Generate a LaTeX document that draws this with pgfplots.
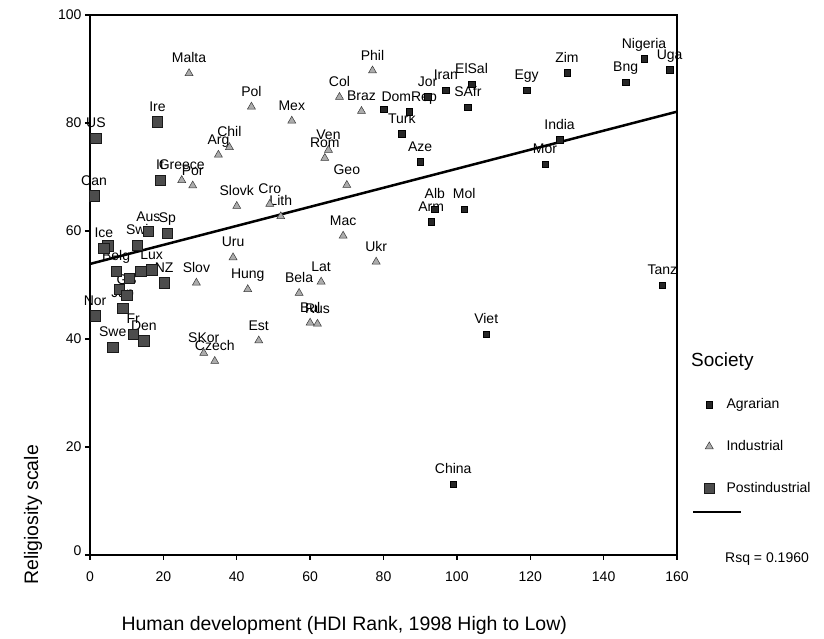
\documentclass[border=0pt]{standalone}
\usepackage{fontspec}
\setmainfont{Liberation Sans}
\usepackage{pgfplots}
\pgfplotsset{compat=1.18}
\usepackage{pgfplotstable}

\pgfplotstableread{
x y label
99 13.1 China
108 40.9 Viet
156 50.0 Tanz
94 64.0 Alb
93 61.7 Arm
102 64.0 Mol
90 72.8 Aze
85 78.0 Turk
87 82.1 DomRep
92 84.9 Jor
97 86.1 Iran
104 87.2 ElSal
103 82.9 SAfr
119 86.1 Egy
130 89.3 Zim
146 87.6 Bng
151 91.9 Nigeria
158 89.9 Uga
128 76.9 India
124 72.4 Mor
80 82.5 {}
}\agrarian

\pgfplotstableread{
x y label
27 89.2 Malta
44 83.0 Pol
55 80.4 Mex
68 84.8 Col
74 82.2 Braz
77 89.7 Phil
38 75.5 Chil
35 74.1 Arg
25 69.4 Greece
28 68.4 Por
65 75.0 Ven
64 73.5 Rom
70 68.5 Geo
40 64.6 Slovk
49 65.0 Cro
52 62.7 Lith
69 59.1 Mac
78 54.3 Ukr
39 55.1 Uru
29 50.4 Slov
43 49.2 Hung
63 50.6 Lat
57 48.5 Bela
60 43.0 Bul
62 42.8 Rus
46 39.7 Est
31 37.4 SKor
34 35.9 Czech
}\industrial

\pgfplotstableread{
x y label
1.6 77.2 US
1.1 66.5 Can
1.4 44.3 Nor
4.8 57.3 {}
3.8 56.8 Ice
6.2 38.5 Swe
7.1 52.5 Belg
8.0 49.2 {}
8.9 45.7 Jap
10.0 48.1 GB
10.7 51.2 {}
11.8 40.9 Fr
12.9 57.4 Swi
13.8 52.5 {}
14.7 39.7 Den
15.9 59.9 Aus
16.8 52.8 Lux
18.4 80.2 Ire
19.1 69.4 It
20.2 50.4 NZ
21.1 59.6 Sp
}\postindustrial

\begin{document}
\begin{tikzpicture}
\path[use as bounding box] (-90pt,-84pt) rectangle (734pt,555pt);
\begin{axis}[
  at={(0pt,0pt)}, anchor=south west,
  scale only axis, width=587pt, height=540pt,
  xmin=0, xmax=160, ymin=0, ymax=100,
  xtick={0,20,...,160}, ytick={0,20,...,100},
  yticklabels={\raisebox{8pt}{0},20,40,60,80,100},
  axis line style={line width=2.2pt},
  tick style={line width=1.3pt, black},
  tick align=outside, major tick length=5pt,
  xtick pos=bottom, ytick pos=left,
  tick label style={font=\fontsize{14}{16}\selectfont},
  xticklabel style={yshift=-8pt},
  /pgf/number format/assume math mode=true,
  clip=false,
  legend style={at={(axis description cs:1.0256,0.2907)}, anchor=north west,
    draw=none, fill=none, inner sep=0pt, outer sep=0pt,
    row sep=29pt, column sep=0pt,
    nodes={inner sep=0pt, text height=10pt, text depth=3pt,
      font=\fontsize{14}{16}\selectfont}},
  legend cell align=left,
  lbl/.style={forget plot, draw=none, mark=none, nodes near coords,
    point meta=explicit symbolic,
    every node near coord/.style={anchor=base, yshift=10.5pt, inner sep=0pt,
      font=\fontsize{14}{16}\selectfont}},
  mkimg/.style={legend image code/.code={\path (0pt,0pt) (32pt,0pt);
      \draw[##1] plot coordinates {(16pt,0pt)};}},
  lineimg/.style={legend image code/.code={\path (0pt,0pt) (32pt,0pt);
      \draw[##1, overlay] (0pt,18.7pt) -- (48pt,18.7pt);}},
]
% labels first, markers drawn over them
\addplot[lbl] table[meta=label] {\agrarian};
\addplot[lbl] table[meta=label] {\industrial};
\addplot[lbl] table[meta=label] {\postindustrial};

\addplot[only marks, mark=square*, mark size=3.2pt,
  mark options={fill=black!85, draw=black, line width=0.4pt}, mkimg]
  table[x=x,y=y] {\agrarian};
\addlegendentry{Agrarian}
\addplot[only marks, mark=triangle*, mark size=4.6pt,
  mark options={fill=gray!65, draw=gray!45!black, line width=0.5pt}, mkimg]
  table[x=x,y=y] {\industrial};
\addlegendentry{Industrial}
\addplot[only marks, mark=square*, mark size=5.2pt,
  mark options={fill=black!70, draw=black!90, line width=0.5pt}, mkimg]
  table[x=x,y=y] {\postindustrial};
\addlegendentry{Postindustrial}
\addplot[black, line width=2.5pt, lineimg]
  coordinates {(0,53.9) (160,82.1)};
\addlegendentry{}
\end{axis}
\node[rotate=90, font=\fontsize{19.5}{19.5}\selectfont] at (-57pt,40pt) {Religiosity scale};
\node[anchor=west, font=\fontsize{19.5}{19.5}\selectfont] at (28pt,-70pt) {Human development (HDI Rank, 1998 High to Low)};
\node[anchor=west, inner sep=0pt, font=\fontsize{19}{19}\selectfont] at (601pt,193pt) {Society};
\node[anchor=west, inner sep=0pt, font=\fontsize{14}{16}\selectfont] at (635pt,-4pt) {Rsq = 0.1960};
\end{tikzpicture}
\end{document}
